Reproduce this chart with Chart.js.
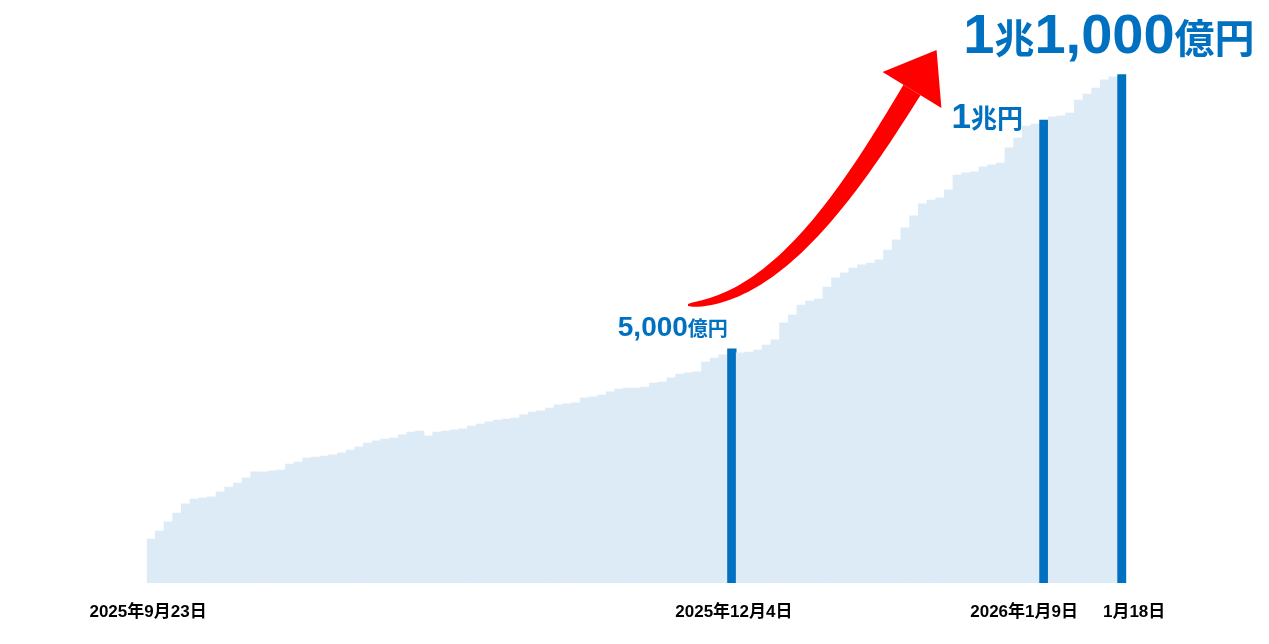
<!DOCTYPE html>
<html lang="ja">
<head>
<meta charset="utf-8">
<title>累計</title>
<script src="https://cdn.jsdelivr.net/npm/chart.js@4.4.1/dist/chart.umd.min.js"></script>
<style>
  html, body { margin:0; padding:0; background:#fff; }
  #wrap { width:1269px; height:644px; }
</style>
</head>
<body>
<div id="wrap"><canvas id="chart" width="1269" height="644"></canvas></div>
<script>
// Cumulative total per day (億円)
const cumulative = [
  950, 1120, 1320, 1510, 1710, 1810, 1840, 1860, 1970, 2070,
  2160, 2270, 2400, 2400, 2420, 2440, 2570, 2610, 2700, 2720,
  2740, 2770, 2810, 2870, 2940, 3020, 3070, 3110, 3130, 3200,
  3260, 3280, 3180, 3260, 3280, 3310, 3330, 3390, 3430, 3480,
  3520, 3540, 3560, 3630, 3690, 3720, 3780, 3850, 3870, 3890,
  4000, 4020, 4060, 4130, 4190, 4210, 4210, 4230, 4320, 4340,
  4430, 4510, 4540, 4560, 4770, 4860, 4930, 5060, 4970, 4990,
  5030, 5140, 5250, 5620, 5790, 6000, 6090, 6130, 6390, 6590,
  6700, 6800, 6870, 6910, 6980, 7190, 7410, 7670, 7930, 8190,
  8270, 8320, 8490, 8810, 8860, 8880, 8990, 9030, 9070, 9400,
  9610, 9870, 9910, 10000, 10070, 10090, 10150, 10430, 10560, 10690,
  10870, 10930, 10980
];
const categories = cumulative.map((v, i) => i);

// Date ticks shown under the bars
const tickIndex = [0, 67, 103, 112];
const tickText  = ['2025年9月23日', '2025年12月4日', '2026年1月9日', '1月18日'];
const tickAlign = ['center', 'center', 'right', 'left'];
const tickShift = [-3, 2, 34, -19];

// Milestone bars and their callouts
const milestoneIndex = [67, 103, 112];
const milestoneText  = [
  [['5,000', 'num'], ['億円', 'kan']],
  [['1', 'num'], ['兆円', 'kan']],
  [['1', 'num'], ['兆', 'kan'], ['1,000', 'num'], ['億円', 'kan']]
];

const FILL = '#DDEBF7';
const BLUE = '#0070C0';
const RED  = '#FF0000';

const calloutStyle = [
  { num: 'bold 28px "Liberation Sans", Arial, sans-serif', kan: 'bold 20px "Noto Sans CJK JP", sans-serif', align: 'right', dx: -4,  dy: -13 },
  { num: 'bold 35px "Liberation Sans", Arial, sans-serif', kan: 'bold 26px "Noto Sans CJK JP", sans-serif', align: 'right', dx: -21, dy: 8 },
  { num: 'bold 56px "Liberation Sans", Arial, sans-serif', kan: 'bold 40px "Noto Sans CJK JP", sans-serif', align: 'center', dx: -13, dy: -22 }
];

const colors = cumulative.map((v, i) => milestoneIndex.includes(i) ? BLUE : FILL);

function drawSegments(ctx, segs, style, x, y) {
  let total = 0;
  const widths = segs.map(s => {
    ctx.font = style[s[1]];
    const w = ctx.measureText(s[0]).width;
    total += w;
    return w;
  });
  let cx = x;
  if (style.align === 'right') cx = x - total;
  else if (style.align === 'center') cx = x - total / 2;
  ctx.textAlign = 'left';
  segs.forEach((s, i) => {
    ctx.font = style[s[1]];
    ctx.fillText(s[0], cx, y);
    cx += widths[i];
  });
}

function bez(p0, c1, c2, p3, t) {
  const u = 1 - t;
  return {
    x: u*u*u*p0.x + 3*u*u*t*c1.x + 3*u*t*t*c2.x + t*t*t*p3.x,
    y: u*u*u*p0.y + 3*u*u*t*c1.y + 3*u*t*t*c2.y + t*t*t*p3.y
  };
}
function bezD(p0, c1, c2, p3, t) {
  const u = 1 - t;
  return {
    x: 3*u*u*(c1.x-p0.x) + 6*u*t*(c2.x-c1.x) + 3*t*t*(p3.x-c2.x),
    y: 3*u*u*(c1.y-p0.y) + 6*u*t*(c2.y-c1.y) + 3*t*t*(p3.y-c2.y)
  };
}

// Curved red arrow rising from the 5,000億円 callout
function drawArrow(ctx) {
  const p0 = {x:688, y:305}, c1 = {x:780, y:300}, c2 = {x:855, y:183}, p3 = {x:912, y:90};
  const left = [], right = [];
  const n = 60;
  for (let i = 0; i <= n; i++) {
    const t = i / n;
    const p = bez(p0, c1, c2, p3, t);
    const d = bezD(p0, c1, c2, p3, t);
    const len = Math.hypot(d.x, d.y);
    const nx = -d.y / len, ny = d.x / len;
    const w = (2 + 18 * Math.sqrt(t)) / 2;
    left.push([p.x + nx*w, p.y + ny*w]);
    right.push([p.x - nx*w, p.y - ny*w]);
  }
  ctx.fillStyle = RED;
  ctx.beginPath();
  left.forEach((p, i) => i ? ctx.lineTo(p[0], p[1]) : ctx.moveTo(p[0], p[1]));
  right.reverse().forEach(p => ctx.lineTo(p[0], p[1]));
  ctx.closePath();
  ctx.fill();
  // head
  const d = bezD(p0, c1, c2, p3, 1);
  const len = Math.hypot(d.x, d.y);
  const ux = d.x / len, uy = d.y / len;
  const half = 34.5, tipLen = 47;
  ctx.beginPath();
  ctx.moveTo(p3.x + ux*tipLen, p3.y + uy*tipLen);
  ctx.lineTo(p3.x - uy*half, p3.y + ux*half);
  ctx.lineTo(p3.x + uy*half, p3.y - ux*half);
  ctx.closePath();
  ctx.fill();
}

const overlay = {
  id: 'overlay',
  afterDatasetsDraw(chart) {
    const ctx = chart.ctx;
    const xs = chart.scales.x, ys = chart.scales.y;
    ctx.save();
    // date labels
    ctx.fillStyle = '#000';
    ctx.font = 'bold 17px "Liberation Sans", "Noto Sans CJK JP", sans-serif';
    ctx.textBaseline = 'alphabetic';
    tickIndex.forEach((idx, i) => {
      ctx.textAlign = tickAlign[i];
      ctx.fillText(tickText[i], xs.getPixelForValue(idx) + tickShift[i], 617);
    });
    // callouts
    ctx.fillStyle = BLUE;
    milestoneIndex.forEach((idx, i) => {
      const st = calloutStyle[i];
      const x = xs.getPixelForValue(idx) + st.dx;
      const y = ys.getPixelForValue(cumulative[idx]) + st.dy;
      drawSegments(ctx, milestoneText[i], st, x, y);
    });
    drawArrow(ctx);
    ctx.restore();
  }
};

const chart = new Chart(document.getElementById('chart').getContext('2d'), {
  type: 'bar',
  data: {
    labels: categories,
    datasets: [{
      data: cumulative,
      backgroundColor: colors,
      borderWidth: 0,
      barPercentage: 1,
      categoryPercentage: 1
    }]
  },
  options: {
    responsive: false,
    animation: false,
    events: [],
    layout: { padding: { left: 146.7, right: 142.7, top: 27.4, bottom: 61 } },
    plugins: { legend: { display: false }, tooltip: { enabled: false } },
    scales: {
      x: { display: false, grid: { display: false } },
      y: { display: false, min: 0, max: 12000, grid: { display: false } }
    }
  },
  plugins: [overlay]
});
</script>
</body>
</html>
